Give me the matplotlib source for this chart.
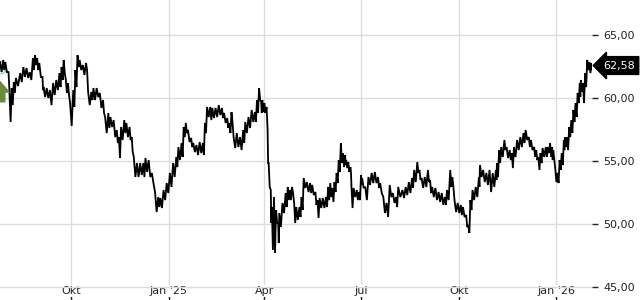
import matplotlib
matplotlib.use('Agg')
import matplotlib.pyplot as plt
import numpy as np
import pandas as pd

# Price chart, intraday range (day offset from start, high, low)
start = pd.Timestamp('2024-07-26')
last_close = 62.58

days = [0, 3, 5, 8, 9, 11, 13, 15, 19, 22, 25, 28, 31, 33, 35, 37, 40, 41, 44, 47,
        50, 53, 56, 58, 60, 62, 64, 66, 69, 71, 73, 75, 78, 81, 83, 86, 88, 91, 94,
        97, 99, 102, 104, 107, 110, 112, 114, 117, 119, 122, 124, 126, 129, 132, 135, 137, 140, 143, 146,
        149, 151, 154, 157, 160, 163, 166, 168, 171, 173, 175, 177, 180, 182, 185, 188,
        191, 193, 195, 198, 200, 203, 206, 209, 211, 214, 216, 218, 220, 223, 226, 229, 231, 234, 237, 240,
        242, 244, 246, 247, 249, 251, 252, 253, 255, 256, 258, 260, 262, 263, 266, 269, 271, 273, 275, 277,
        279, 282,
        284, 286, 289, 292, 294, 297, 299, 301, 304, 307, 309, 311, 313, 315, 317, 319, 321, 323, 325, 326,
        328, 330, 331, 333, 336, 338, 340, 341, 344, 347, 350, 353, 356, 358, 361, 364, 367, 370, 373, 375,
        379, 382, 385, 388, 390, 393, 395, 397, 400, 403, 405, 407, 410, 413, 416, 419, 421, 424, 426, 428,
        431, 434, 436, 439, 441, 443, 445, 448, 451, 452, 455, 458, 461, 464, 467,
        468, 470, 472, 475, 477, 480, 482, 484, 487, 490, 493, 495, 498, 500, 503, 505, 507, 509, 511, 514,
        516, 518, 520, 521, 523, 525, 527, 529, 531, 532, 534, 536, 538, 540, 542, 544, 546, 547, 549, 551,
        553, 555, 557]

high = [62.86, 63.02, 62.86, 62.06, 60.24, 60.79, 61.27, 61.59, 61.98, 62.46,
        62.38, 62.06, 63.17, 63.41, 63.17, 62.78, 61.67, 60.87, 60.79, 60.63,
        61.19, 61.43, 61.98, 62.46, 63.02, 61.43, 61.19, 59.60, 60.63, 62.22,
        63.41, 63.02, 62.62, 62.78, 60.48, 60.48, 60.79, 60.79, 60.40,
        59.84, 58.49, 58.81, 58.49, 58.25, 57.46, 56.90, 57.70, 58.25, 58.02,
        57.70, 56.90, 55.32, 54.84, 54.84, 54.84, 55.24, 55.08, 54.05, 52.54,
        52.14, 52.06, 52.70, 53.25, 54.05, 54.84, 55.32, 56.11, 56.43, 57.70,
        58.02, 57.46, 56.83, 56.43, 56.27, 56.51,
        56.43, 58.02, 59.29, 59.29, 59.21, 59.21, 59.44, 59.21, 58.81, 58.41,
        58.02, 58.89, 56.90, 57.22, 56.90, 57.46, 58.10, 58.49, 59.05, 58.89,
        59.84, 60.79, 59.68, 59.84, 59.60, 59.29, 57.46, 54.84, 52.70, 51.35,
        52.14, 51.11, 50.08, 50.87, 51.67, 52.46, 52.94, 52.70, 52.94, 51.67,
        51.35, 51.35,
        52.14, 53.65, 53.33, 53.25, 53.10, 52.54, 51.90, 52.06, 52.06, 52.14,
        52.94, 53.25, 52.86, 53.33, 54.05, 55.08, 56.43, 55.63, 55.48, 55.08,
        54.92, 54.52, 52.94, 52.86, 52.70, 52.54, 53.89, 53.65, 52.94, 53.73,
        54.05, 54.13, 53.73, 53.25, 52.14, 51.67, 53.10, 52.46, 52.14, 52.94,
        52.70, 52.94, 53.33, 53.65, 54.29, 54.92, 54.29, 53.65, 53.73, 54.29,
        53.49, 52.94, 52.86, 52.54, 52.46, 52.14, 52.70, 54.29, 53.73, 51.90,
        51.67, 51.51, 51.35, 50.71, 49.92, 51.90, 52.70, 52.94, 53.73, 54.68,
        54.29, 54.05, 54.29, 54.05, 54.29,
        54.84, 55.87, 56.11, 56.67, 56.11, 55.87, 55.63, 56.11, 56.67, 56.90,
        57.22, 57.46, 56.90, 56.67, 56.11, 55.87, 55.32, 55.63, 56.03, 56.11,
        56.11, 56.43, 56.11, 55.87, 54.29, 54.05, 55.08, 55.63, 56.67, 56.90,
        56.90, 57.70, 58.25, 59.05, 59.60, 60.40, 61.19, 61.43, 61.19, 61.98,
        63.02, 62.86, 62.78]

low = [62.06, 62.22, 62.06, 61.27, 58.10, 59.44, 60.40, 60.95, 61.27, 61.67,
       61.59, 61.43, 62.22, 62.62, 62.22, 61.67, 60.63, 60.08, 60.00, 59.44,
       60.24, 60.63, 60.87, 61.43, 61.98, 60.40, 60.24, 57.78, 59.29, 60.87,
       62.46, 62.22, 61.83, 62.22, 59.44, 59.84, 59.84, 60.08, 59.21,
       58.81, 57.22, 57.62, 57.70, 56.90, 56.43, 55.24, 56.67, 57.22, 56.90,
       56.67, 55.71, 53.73, 53.73, 53.89, 53.73, 54.13, 53.73, 53.25, 50.95,
       51.35, 51.27, 51.90, 52.46, 52.94, 53.73, 54.52, 55.08, 55.32, 56.90,
       57.22, 56.51, 56.11, 55.71, 55.48, 55.63,
       55.48, 57.22, 58.49, 58.25, 58.41, 58.49, 58.65, 58.41, 58.02, 57.62,
       57.22, 58.02, 56.03, 56.11, 55.87, 56.43, 57.22, 57.62, 58.10, 58.10,
       58.81, 59.84, 58.81, 58.89, 58.81, 58.49, 54.84, 52.94, 50.08, 47.94,
       47.70, 50.08, 48.49, 49.76, 50.87, 51.35, 51.90, 51.90, 52.46, 50.08,
       50.32, 50.56,
       51.11, 52.86, 52.54, 52.46, 52.30, 51.51, 50.48, 51.27, 51.27, 51.35,
       51.90, 52.14, 51.75, 52.54, 53.25, 54.13, 54.84, 54.52, 54.68, 54.44,
       54.13, 54.13, 51.27, 52.14, 51.90, 51.90, 53.10, 52.86, 51.90, 53.10,
       53.25, 53.25, 52.86, 52.46, 50.87, 50.56, 52.14, 51.67, 51.35, 52.14,
       52.06, 52.30, 52.46, 52.86, 53.33, 54.05, 53.49, 52.86, 52.94, 53.33,
       52.46, 52.14, 51.90, 51.75, 51.51, 51.51, 51.90, 52.94, 52.94, 50.95,
       50.87, 50.71, 50.56, 49.76, 49.29, 51.11, 51.90, 52.14, 52.94, 53.73,
       53.33, 53.10, 52.54, 52.94, 53.49,
       53.73, 54.84, 55.32, 55.87, 55.24, 55.08, 54.44, 55.32, 55.87, 56.11,
       56.43, 56.67, 56.11, 55.87, 55.32, 55.08, 54.29, 54.84, 55.32, 55.32,
       55.63, 55.32, 55.08, 55.08, 53.33, 53.25, 54.29, 54.68, 55.87, 56.11,
       55.87, 56.90, 57.22, 58.10, 58.49, 59.60, 60.08, 60.48, 59.60, 60.87,
       62.22, 61.98, 62.22]

tick_dates = ['2024-10-01', '2025-01-01', '2025-04-01', '2025-07-01', '2025-10-01', '2026-01-01']
tick_labels = ['Okt', "Jan '25", 'Apr', 'Jul', 'Okt', "Jan '26"]
y_ticks = [45, 50, 55, 60, 65]
signal_price = 61.3   # green arrow marker on the left edge

# zigzag between highs and lows to get the dense intraday look
d = np.array(days, dtype=float)
gaps = np.append(np.diff(d), 0.5)
t = np.empty(2 * len(d))
v = np.empty(2 * len(d))
t[0::2] = d
t[1::2] = d + gaps / 2
v[0::2] = high
v[1::2] = low
t = np.append(t, d[-1] + 0.5)
v = np.append(v, last_close)
x = start + pd.to_timedelta(t, unit='D')

fig = plt.figure(figsize=(6.4, 3.0), dpi=100)
ax = fig.add_axes([0, 0, 592 / 640, 1])

ax.plot(x, v, color='black', lw=1.3, solid_joinstyle='miter')

ax.set_xlim(x[0], x[-1])
ax.set_ylim(43.97, 67.78)

for s in ax.spines.values():
    s.set_visible(False)

ax.set_yticks(y_ticks)
ax.set_yticklabels([f'{t_:.2f}'.replace('.', ',') for t_ in y_ticks])
ax.yaxis.tick_right()
ax.tick_params(axis='y', length=4, width=1, pad=4, labelsize=8, colors='#222222', direction='out')

ax.set_xticks(pd.to_datetime(tick_dates))
ax.set_xticklabels(tick_labels)
ax.tick_params(axis='x', length=3, width=1, direction='in', pad=-10, labelsize=8, colors='#222222')
for lbl in ax.get_xticklabels():
    lbl.set_bbox(dict(facecolor='white', edgecolor='none', pad=0.5))

ax.grid(True, color='#dcdcdc', lw=1)
ax.set_axisbelow(True)

# last price box
ax.annotate(f'{last_close:.2f}'.replace('.', ','), xy=(1.0, last_close),
            xycoords=('axes fraction', 'data'), xytext=(8, 0), textcoords='offset points',
            ha='left', va='center', fontsize=8, color='white', annotation_clip=False,
            bbox=dict(boxstyle='larrow,pad=0.35', fc='black', ec='black'))

# signal markers at the left edge
ax.scatter([start], [62.4], s=80, facecolors='none', edgecolors='#9fd0de', lw=1, zorder=1)
ax.annotate('', xy=(start, signal_price), xytext=(start, signal_price - 1.6),
            arrowprops=dict(arrowstyle='simple,head_length=0.75,head_width=1.3,tail_width=0.7',
                            mutation_scale=10, color='#6b8a3a', shrinkA=0, shrinkB=0),
            annotation_clip=False)

fig.savefig('out.png', dpi=100)
